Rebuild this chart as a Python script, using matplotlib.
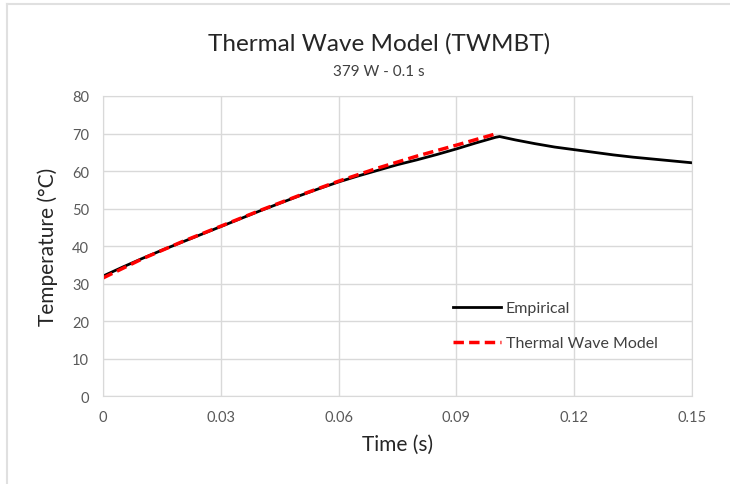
import matplotlib.pyplot as plt
from matplotlib.lines import Line2D

# empirical measurement
t_emp = [0, 0.005, 0.01, 0.015, 0.02, 0.025, 0.03, 0.035, 0.04, 0.045, 0.05,
         0.055, 0.06, 0.065, 0.07, 0.075, 0.08, 0.085, 0.09, 0.095, 0.1, 0.101,
         0.105, 0.11, 0.115, 0.12, 0.125, 0.13, 0.135, 0.14, 0.145, 0.15]
T_emp = [32.0, 34.4, 36.7, 38.9, 41.0, 43.1, 45.2, 47.3, 49.4, 51.4, 53.4,
         55.3, 57.1, 58.7, 60.2, 61.7, 63.0, 64.4, 65.9, 67.5, 69.0, 69.2,
         68.3, 67.3, 66.4, 65.7, 65.0, 64.3, 63.7, 63.2, 62.7, 62.2]

# thermal wave model
t_mod = [0, 0.01, 0.02, 0.03, 0.04, 0.05, 0.06, 0.07, 0.08, 0.09, 0.1]
T_mod = [31.5, 36.6, 41.1, 45.3, 49.5, 53.5, 57.3, 60.8, 64.0, 66.9, 69.9]

x_ticks = [0, 0.03, 0.06, 0.09, 0.12, 0.15]
x_labels = ['0', '0.03', '0.06', '0.09', '0.12', '0.15']
y_ticks = [0, 10, 20, 30, 40, 50, 60, 70, 80]

plt.rcParams['font.family'] = ['Lato', 'DejaVu Sans']
grid_col = '#d9d9d9'
txt_col = '#595959'

fig = plt.figure(figsize=(7.3, 4.85), dpi=100)
ax = fig.add_axes([0.141, 0.181, 0.807, 0.619])

ax.plot(t_emp, T_emp, color='black', lw=2, label='Empirical')
ax.plot(t_mod, T_mod, color='red', lw=2.5, ls=(0, (3, 1.5)), label='Thermal Wave Model')

ax.set_xlim(0, 0.15)
ax.set_ylim(0, 80)
ax.set_xticks(x_ticks)
ax.set_xticklabels(x_labels)
ax.set_yticks(y_ticks)
ax.grid(True, color=grid_col, lw=1)
ax.set_axisbelow(True)
ax.tick_params(length=0, labelsize=10.5, labelcolor=txt_col, pad=10)
for s in ax.spines.values():
    s.set_color(grid_col)

ax.set_xlabel('Time (s)', fontsize=15, color='#262626', labelpad=7)
ax.set_ylabel('Temperature (°C)', fontsize=15, color='#262626', labelpad=10)

fig.text(0.519, 0.909, 'Thermal Wave Model (TWMBT)', fontsize=17.5,
         color='#262626', ha='center', va='center')
fig.text(0.519, 0.852, '379 W - 0.1 s', fontsize=11, color='#404040',
         ha='center', va='center')

ax.legend(frameon=False, loc='upper left', bbox_to_anchor=(0.57, 0.365),
          fontsize=11.5, handlelength=3.0, labelspacing=1.3, handletextpad=0.3,
          labelcolor='#404040')

# light frame around the chart area
fig.add_artist(Line2D([0.01, 0.01], [0.0, 0.99], color='#e0e0e0', lw=1.5))
fig.add_artist(Line2D([0.01, 1.0], [0.99, 0.99], color='#e0e0e0', lw=1.5))

fig.savefig('out.png', dpi=100)
